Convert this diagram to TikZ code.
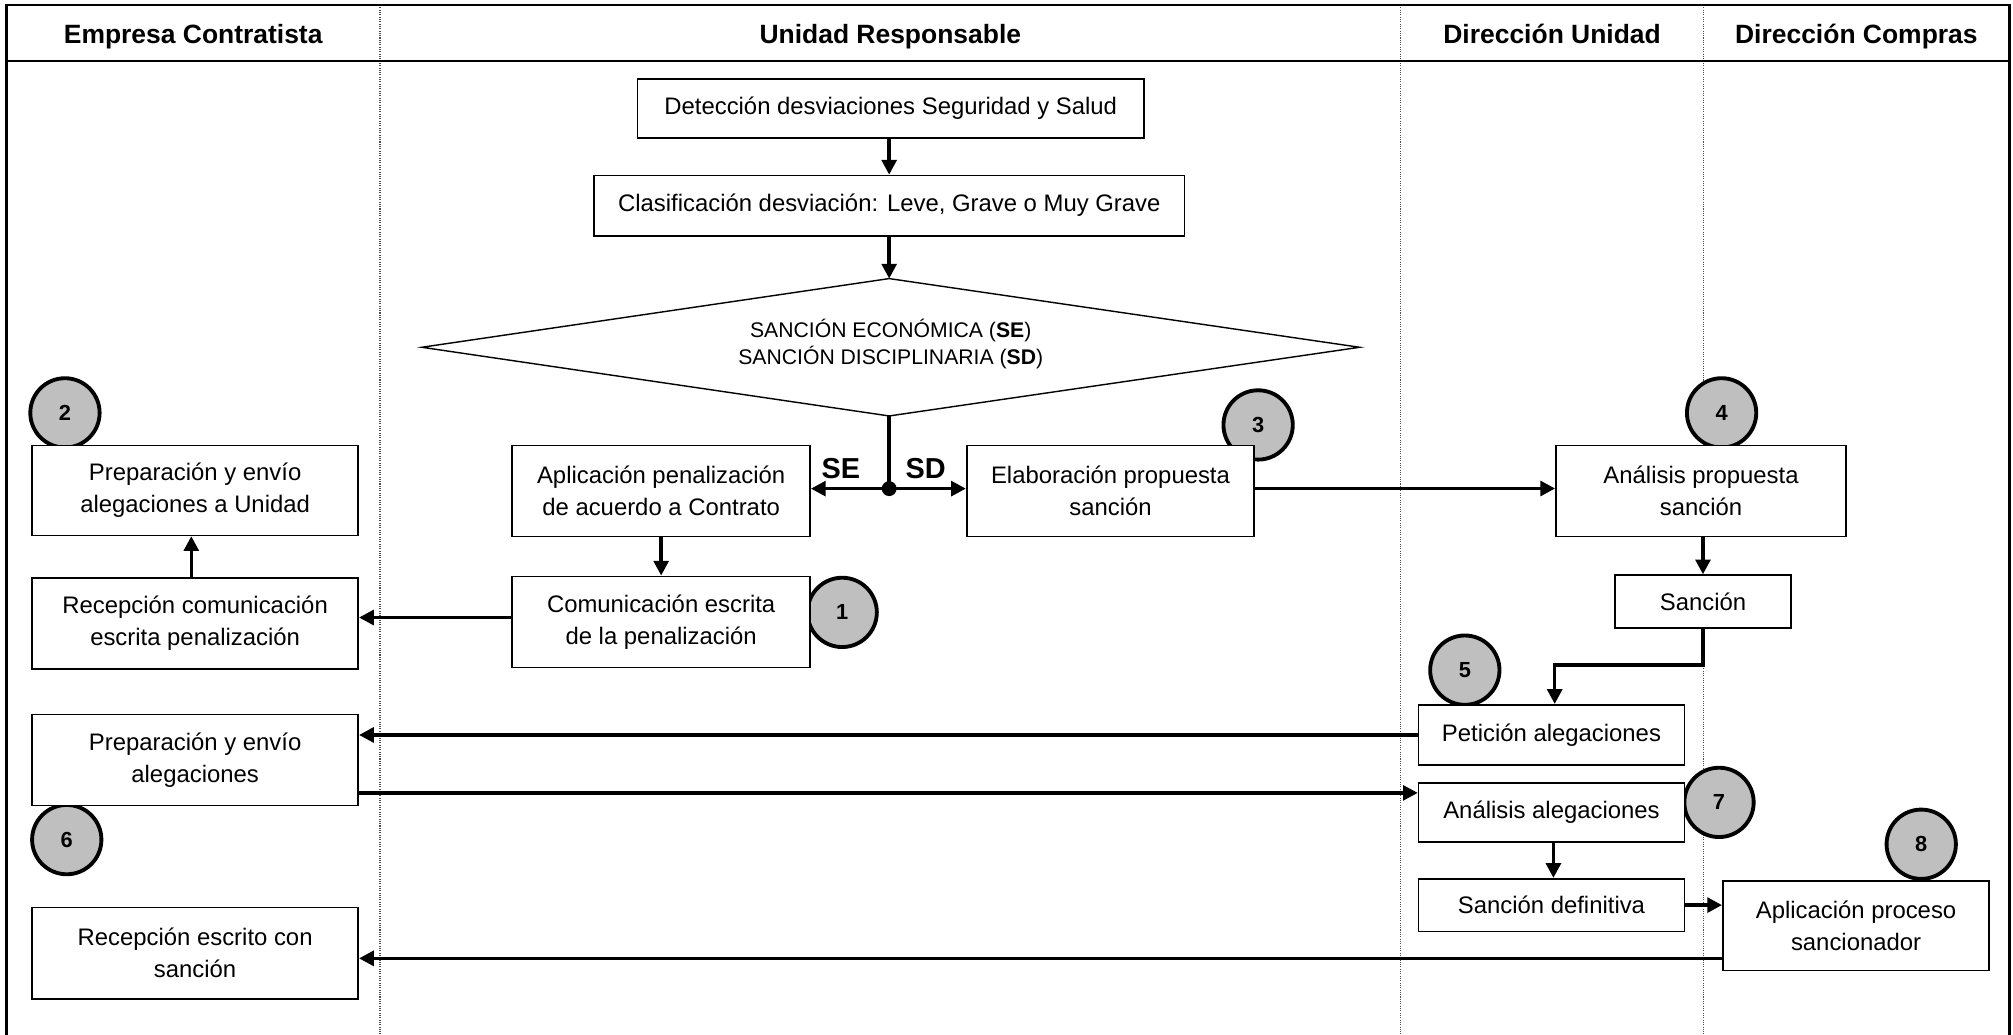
\documentclass[tikz,border=0pt]{standalone}
\usepackage{fontspec}
\setmainfont{Liberation Sans}
\usetikzlibrary{arrows.meta,calc}
\newcommand{\bodyfont}{\fontsize{18.6}{25}\selectfont}
\newcommand{\headfont}{\fontsize{20.6}{24}\selectfont\bfseries}
\newcommand{\diafont}{\fontsize{16.5}{21}\selectfont}
\newcommand{\numfont}{\fontsize{17}{20}\selectfont\bfseries}
\newcommand{\lblfont}{\fontsize{22.5}{26}\selectfont\bfseries}
\begin{document}
\begin{tikzpicture}[x=1pt,y=-1pt,
  box/.style={draw, line width=1.3pt, fill=white, align=center, inner sep=0pt, font=\bodyfont},
  numc/.style={circle, draw, line width=3pt, fill=black!25, minimum size=54pt, inner sep=0pt, font=\numfont},
  arr/.style={line width=2.7pt, -{Triangle[length=11.5pt,width=11.5pt]}},
  plain/.style={line width=2.7pt},
  lane/.style={densely dotted, black!70, line width=0.8pt},
  frame/.style={line width=2.1pt},
  head/.style={font=\headfont, anchor=base}]
\useasboundingbox (0,0) rectangle (1568,806);
% lanes
\draw[lane] (296,4) -- (296,806);
\draw[lane] (1091,4) -- (1091,806);
\draw[lane] (1327,4) -- (1327,806);
\draw[frame] (5.3,806) -- (5.3,4) -- (1565,4) -- (1565,806);
\draw[frame] (5.3,47.5) -- (1565,47.5);
% headers
\node[head] (h1) at (150.5,33.5) {Empresa Contratista};
\node[head] (h2) at (693.5,33.5) {Unidad Responsable};
\node[head] (h3) at (1209,33.5) {Dirección Unidad};
\node[head] (h4) at (1446,33.5) {Dirección Compras};
% circles (behind boxes)
\node[numc] (c1) at (656,477) {1};
\node[numc] (c2) at (50.6,321.6) {2};
\node[numc] (c3) at (980,331) {3};
\node[numc] (c4) at (1341,321.6) {4};
\node[numc] (c5) at (1141,522) {5};
\node[numc] (c6) at (52,654) {6};
\node[numc] (c7) at (1339,625) {7};
\node[numc] (c8) at (1496.5,657.6) {8};
% decision diamond
\coordinate (dtop) at (692.6,217);
\coordinate (dbot) at (692.6,324);
\coordinate (dleft) at (328.6,270.5);
\coordinate (dright) at (1059,270.5);
\draw[line width=1.1pt, fill=white] (dtop) -- (dright) -- (dbot) -- (dleft) -- cycle;
\node[align=center, font=\diafont] (dia) at (693.8,268) {SANCIÓN ECONÓMICA (\textbf{SE})\\SANCIÓN DISCIPLINARIA (\textbf{SD})};
% boxes
\node[box, minimum width=394.5pt, minimum height=46pt] (det) at (693.8,84.5) {Detección desviaciones Seguridad y Salud};
\node[box, minimum width=460pt, minimum height=47pt] (cla) at (692.7,160.2) {Clasificación desviación: Leve, Grave o Muy Grave};
\node[box, minimum width=232pt, minimum height=71pt] (apl) at (515,382.5) {Aplicación penalización\\de acuerdo a Contrato};
\node[box, minimum width=224pt, minimum height=71pt] (ela) at (865,382.5) {Elaboración propuesta\\sanción};
\node[box, minimum width=232pt, minimum height=71pt] (com) at (515,484.5) {Comunicación escrita\\de la penalización};
\node[box, minimum width=254pt, minimum height=71pt] (rcom) at (152,485.5) {Recepción comunicación\\escrita penalización};
\node[box, minimum width=254pt, minimum height=70pt] (prep1) at (152,382) {Preparación y envío\\alegaciones a Unidad};
\node[box, minimum width=226pt, minimum height=71pt] (anp) at (1325,382.5) {Análisis propuesta\\sanción};
\node[box, minimum width=137pt, minimum height=41pt] (san) at (1326.5,468.5) {Sanción};
\node[box, minimum width=207pt, minimum height=47pt] (pet) at (1208.5,572.5) {Petición alegaciones};
\node[box, minimum width=254pt, minimum height=71pt] (prep2) at (152,592) {Preparación y envío\\alegaciones};
\node[box, minimum width=207pt, minimum height=46pt] (ana) at (1208.5,633) {Análisis alegaciones};
\node[box, minimum width=207pt, minimum height=41pt] (sdef) at (1208.5,705) {Sanción definitiva};
\node[box, minimum width=207.5pt, minimum height=70pt] (apr) at (1445.75,721) {Aplicación proceso\\sancionador};
\node[box, minimum width=254pt, minimum height=71pt] (rec2) at (152,742.5) {Recepción escrito con\\sanción};
% decision split
\node[circle, fill=black, inner sep=0pt, minimum size=11.6pt] (dot) at (692.6,380.6) {};
\node[font=\lblfont] (lse) at (655,365) {SE};
\node[font=\lblfont] (lsd) at (721,365) {SD};
\coordinate (kink) at (1326.5,518);
% connectors
\draw[arr] (det.south -| dtop) -- (cla.north -| dtop);
\draw[arr] (cla.south -| dtop) -- (dtop);
\draw[plain] (dbot) -- (dot.center);
\draw[arr] (dot.center) -- (dot -| apl.east);
\draw[arr] (dot.center) -- (dot -| ela.west);
\draw[arr] (apl.south) -- (com.north);
\draw[arr] ([yshift=3.5pt]com.west) -- ([yshift=3.5pt]com.west -| rcom.east);
\draw[arr] ([xshift=-3pt]rcom.north) -- ([xshift=-3pt]prep1.south);
\draw[arr] ([yshift=2pt]ela.east) -- ([yshift=2pt]ela.east -| anp.west);
\draw[arr] (anp.south -| san.north) -- (san.north);
\draw[arr] (san.south) -- (kink) -| ([xshift=2.5pt]pet.north);
\draw[arr] (pet.west) -- (pet.west -| prep2.east);
\draw[arr] ([yshift=-25.6pt]prep2.east) -- ([yshift=-25.6pt]prep2.east -| ana.west);
\draw[arr] ([xshift=1.5pt]ana.south) -- ([xshift=1.5pt]sdef.north);
\draw[arr] (sdef.east) -- (sdef.east -| apr.west);
\draw[arr] ([yshift=-25.5pt]apr.west) -- ([yshift=-25.5pt]apr.west -| rec2.east);
\end{tikzpicture}
\end{document}
